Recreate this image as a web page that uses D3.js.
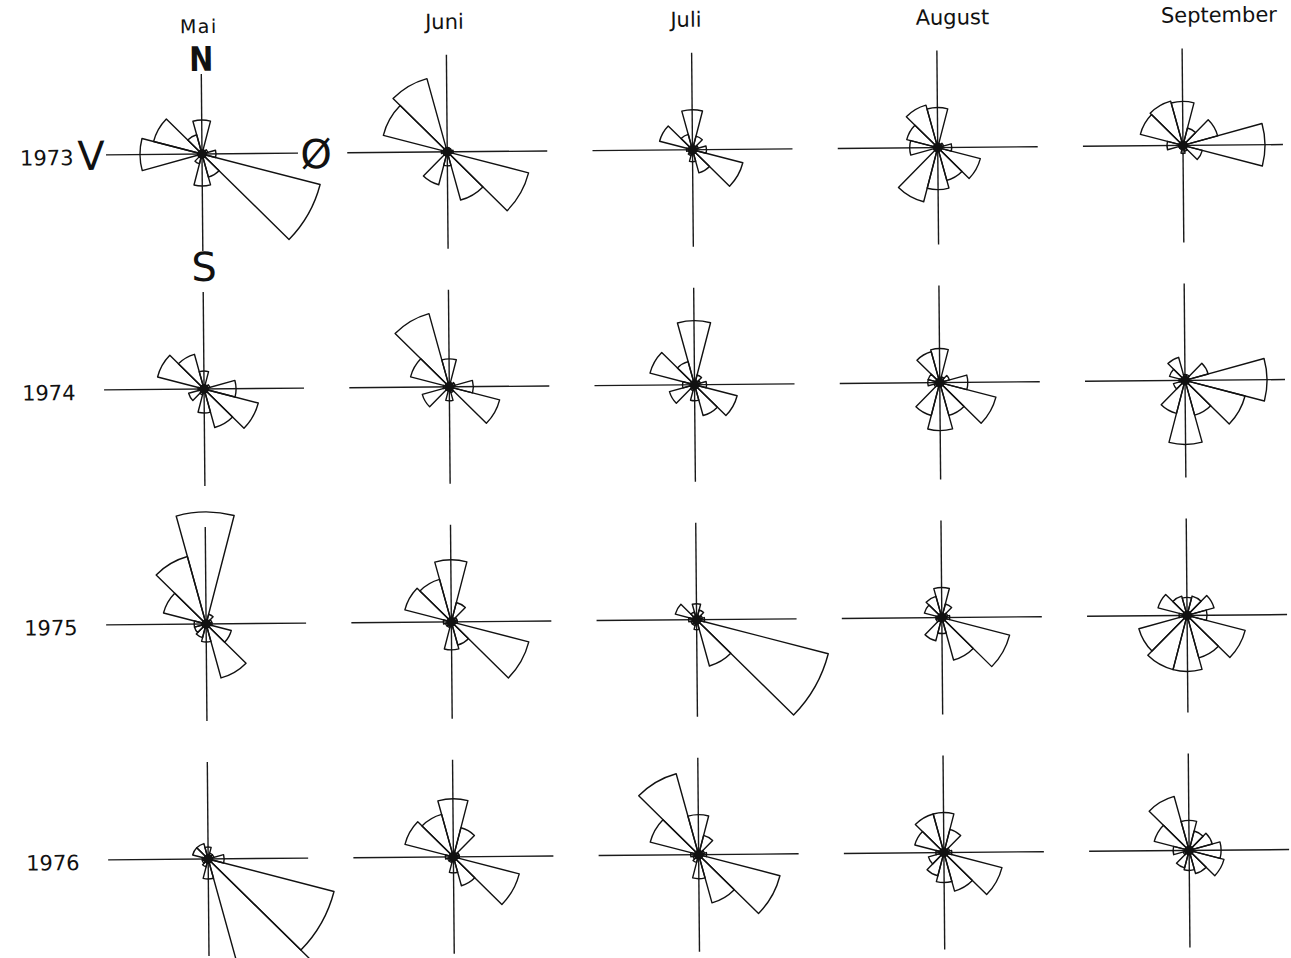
<!DOCTYPE html>
<html>
<head>
<meta charset="utf-8">
<script src="https://cdn.jsdelivr.net/npm/d3@7/dist/d3.min.js"></script>
<style>
  html, body { margin: 0; padding: 0; background: #fff; }
  svg { display: block; }
  text { font-family: "DejaVu Sans", "Liberation Sans", sans-serif; fill: #111; }
</style>
</head>
<body>
<svg id="chart" width="1291" height="958"></svg>
<script>
// Monthly wind roses, May–September 1973–1976.
// Twelve 30° sectors, centred on N (0°) and then clockwise; values in % of observations.
const months = ["Mai", "Juni", "Juli", "August", "September"];
const years = ["1973", "1974", "1975", "1976"];
const directions = [0, 30, 60, 90, 120, 150, 180, 210, 240, 270, 300, 330];

// one row of roses per year, one rose per month (N, 30°, 60°, Ø, 120°, 150°, S, 210°, 240°, V, 300°, 330°)
const freq1973 = [
  [8.5, 1, 1.5, 3.5, 30.5, 6, 8, 2.5, 1, 15.5, 12.5, 5],
  [1, 1, 1, 1.5, 21, 12.5, 3.5, 8.5, 1, 1.5, 16.5, 19],
  [10, 3.5, 1.5, 3.5, 13, 6, 3, 1.5, 1, 1.5, 8.5, 4],
  [10, 1, 1.5, 3.5, 11, 8.5, 10.5, 14, 1, 7, 8, 11],
  [11, 4.5, 9, 20.5, 5, 1.5, 2, 1, 1, 4, 11, 11.5]
];
const freq1974 = [
  [4.5, 1, 1.5, 8, 14, 10, 6, 1.5, 4, 1.5, 12, 9],
  [7, 1, 1.5, 6, 13, 1.5, 3.5, 1, 7, 1.5, 10, 19],
  [16, 2.5, 1.5, 3, 11, 8, 4, 1.5, 6.5, 3, 11.5, 6],
  [8.5, 1.5, 2.5, 7, 14.5, 8.5, 12, 8.5, 1.5, 3, 3, 8],
  [1.5, 1.5, 6, 20.5, 15.5, 9, 16, 8.5, 3, 1.5, 4, 6]
];
const freq1975 = [
  [28, 2.5, 1.5, 1.5, 6.5, 14, 4.5, 3.5, 3, 3, 11, 17.5],
  [15.5, 5, 1.5, 1.5, 20, 6, 7, 1.5, 1.5, 2, 12, 11],
  [4, 2.5, 1.5, 2, 34, 12, 2.5, 1.5, 1.5, 2, 5.5, 2],
  [7.5, 3.5, 1.5, 2, 17.5, 11, 4, 6, 1.5, 1.5, 4.5, 5.5],
  [4.5, 5, 7, 5, 15, 11, 14, 14, 12.5, 2, 7.5, 5]
];
const freq1976 = [
  [3, 1.5, 1.5, 4, 32.5, 37.5, 5, 2, 1.5, 1.5, 4, 4],
  [14.5, 7.5, 1.5, 1.5, 17, 7.5, 4, 1.5, 1.5, 2, 12.5, 11],
  [10, 5, 1.5, 2, 21, 12.5, 6, 2, 1.5, 2, 12.5, 21],
  [10, 6, 1.5, 2, 15, 10, 7.5, 6, 4, 2, 7.5, 10],
  [7.5, 5, 6, 8, 9, 6, 5, 4.5, 1.5, 4, 9, 14]
];
const freqByYear = [freq1973, freq1974, freq1975, freq1976];

// compass letters shown on the first rose
const compass = { north: "N", east: "Ø", south: "S", west: "V" };

const svg = d3.select("#chart");

// grid of rose centres
const x = d3.scalePoint().domain(months).range([202, 1183]);
const y = d3.scalePoint().domain(years).range([154, 859]);
// sector length per percent
const r = d3.scaleLinear().domain([0, 10]).range([0, 40]);
const sectorWidth = 30;
const rad = Math.PI / 180;
const axisX = 100, axisY = 97;

const arc = d3.arc()
  .innerRadius(0)
  .outerRadius(d => r(d.value))
  .startAngle(d => (d.dir - sectorWidth / 2) * rad)
  .endAngle(d => (d.dir + sectorWidth / 2) * rad);

// the sheet sits slightly askew
const plot = svg.append("g").attr("transform", `rotate(-0.5, ${x(months[0])}, ${y(years[0])})`);

// month headings
plot.selectAll("text.month")
  .data(months)
  .join("text")
  .attr("class", "month")
  .attr("x", d => x(d) - 21)
  .attr("y", (d, i) => i === 0 ? 33 : 31)
  .attr("font-size", (d, i) => i === 0 ? 19 : 21)
  .attr("letter-spacing", (d, i) => i === 0 ? 1.5 : 0)
  .text(d => d);

// year labels
plot.selectAll("text.year")
  .data(years)
  .join("text")
  .attr("class", "year")
  .attr("x", 20)
  .attr("y", d => y(d) + 10)
  .attr("font-size", 21)
  .text(d => d);

years.forEach((yr, yi) => {
  months.forEach((mo, mi) => {
    const cx = x(mo), cy = y(yr);
    const first = yi === 0 && mi === 0;
    const g = plot.append("g").attr("transform", `translate(${cx},${cy})`);

    // cross of the compass axes
    g.append("line")
      .attr("x1", first ? -96 : -axisX).attr("x2", first ? 96 : axisX)
      .attr("y1", 0).attr("y2", 0)
      .attr("stroke", "#1a1a1a").attr("stroke-width", 1.4);
    g.append("line")
      .attr("x1", 0).attr("x2", 0)
      .attr("y1", first ? -80 : -axisY).attr("y2", axisY)
      .attr("stroke", "#1a1a1a").attr("stroke-width", 1.4);

    const sectors = directions.map((dir, k) => ({ dir, value: freqByYear[yi][mi][k] }));
    g.selectAll("path.sector")
      .data(sectors)
      .join("path")
      .attr("class", "sector")
      .attr("d", arc)
      .attr("fill", "none")
      .attr("stroke", "#111")
      .attr("stroke-width", 1.4)
      .attr("stroke-linejoin", "round");

    // calm centre
    g.append("circle").attr("r", 5).attr("fill", "#111");

    if (first) {
      g.append("text").attr("x", 0).attr("y", -83).attr("text-anchor", "middle")
        .attr("font-size", 34).attr("font-weight", "bold")
        .attr("transform", "translate(0,-83) scale(0.85,1) translate(0,83)")
        .text(compass.north);
      g.append("text").attr("x", -111).attr("y", 15).attr("text-anchor", "middle")
        .attr("font-size", 40).text(compass.west);
      g.append("text").attr("x", 114).attr("y", 15).attr("text-anchor", "middle")
        .attr("font-size", 40).text(compass.east);
      g.append("text").attr("x", 1).attr("y", 127).attr("text-anchor", "middle")
        .attr("font-size", 40).text(compass.south);
    }
  });
});
</script>
</body>
</html>
